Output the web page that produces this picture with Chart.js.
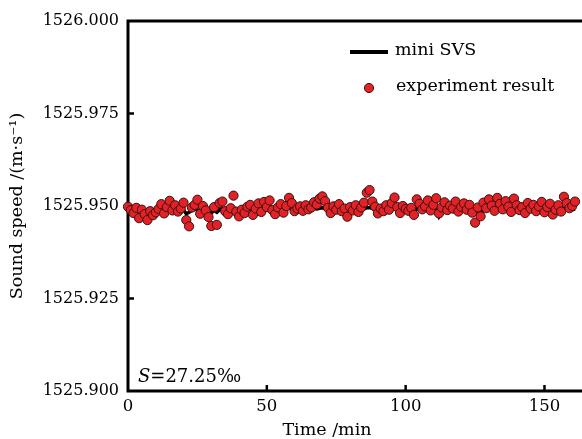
<!DOCTYPE html>
<html>
<head>
<meta charset="utf-8">
<script src="https://cdn.jsdelivr.net/npm/chart.js@4/dist/chart.umd.min.js"></script>
<style>
  html, body { margin: 0; padding: 0; background: #fff; overflow: hidden; }
  canvas { display: block; }
</style>
</head>
<body>
<canvas id="chart" width="582" height="439"></canvas>
<script>
// 时间 (min)
const sampleMinutes = [
  0, 1, 2, 3, 4, 5, 6, 7, 8, 9, 10, 11, 12, 13, 14, 15, 16, 17, 18, 19,
  20, 21, 22, 23, 24, 25, 26, 27, 28, 29, 30, 31, 32, 33, 34, 35, 36, 37, 38, 39,
  40, 41, 42, 43, 44, 45, 46, 47, 48, 49, 50, 51, 52, 53, 54, 55, 56, 57, 58, 59,
  60, 61, 62, 63, 64, 65, 66, 67, 68, 69, 70, 71, 72, 73, 74, 75, 76, 77, 78, 79,
  80, 81, 82, 83, 84, 85, 86, 87, 88, 89, 90, 91, 92, 93, 94, 95, 96, 97, 98, 99,
  100, 101, 102, 103, 104, 105, 106, 107, 108, 109, 110, 111, 112, 113, 114, 115, 116, 117, 118, 119,
  120, 121, 122, 123, 124, 125, 126, 127, 128, 129, 130, 131, 132, 133, 134, 135, 136, 137, 138, 139,
  140, 141, 142, 143, 144, 145, 146, 147, 148, 149, 150, 151, 152, 153, 154, 155, 156, 157, 158, 159,
  160, 161
];

// 实验结果 (m/s)
const experimentResult = [
  1525.9498, 1525.9489, 1525.9481, 1525.9495, 1525.9467, 1525.9490, 1525.9478, 1525.9462, 1525.9486, 1525.9475,
  1525.9483, 1525.9492, 1525.9505, 1525.9480, 1525.9497, 1525.9514, 1525.9488, 1525.9502, 1525.9485, 1525.9493,
  1525.9509, 1525.9462, 1525.9445, 1525.9496, 1525.9503, 1525.9517, 1525.9479, 1525.9500, 1525.9488, 1525.9470,
  1525.9446, 1525.9497, 1525.9449, 1525.9508, 1525.9512, 1525.9486, 1525.9478, 1525.9494, 1525.9528, 1525.9485,
  1525.9472, 1525.9490, 1525.9481, 1525.9498, 1525.9503, 1525.9476, 1525.9493, 1525.9507, 1525.9484, 1525.9511,
  1525.9497, 1525.9515, 1525.9489, 1525.9478, 1525.9496, 1525.9505, 1525.9482, 1525.9500, 1525.9522, 1525.9508,
  1525.9486, 1525.9493, 1525.9499, 1525.9487, 1525.9502, 1525.9491, 1525.9496, 1525.9510, 1525.9504, 1525.9520,
  1525.9526, 1525.9513, 1525.9495, 1525.9481, 1525.9499, 1525.9490, 1525.9505, 1525.9486, 1525.9493, 1525.9471,
  1525.9497, 1525.9488, 1525.9502, 1525.9484, 1525.9496, 1525.9509, 1525.9536, 1525.9543, 1525.9512, 1525.9498,
  1525.9480, 1525.9493, 1525.9486, 1525.9502, 1525.9490, 1525.9508, 1525.9523, 1525.9497, 1525.9481, 1525.9500,
  1525.9492, 1525.9487, 1525.9495, 1525.9476, 1525.9518, 1525.9506, 1525.9491, 1525.9499, 1525.9515, 1525.9488,
  1525.9503, 1525.9521, 1525.9480, 1525.9496, 1525.9510, 1525.9489, 1525.9501, 1525.9493, 1525.9512, 1525.9485,
  1525.9498, 1525.9507, 1525.9490, 1525.9503, 1525.9482, 1525.9455, 1525.9496, 1525.9472, 1525.9509, 1525.9494,
  1525.9518, 1525.9501, 1525.9487, 1525.9522, 1525.9506, 1525.9491, 1525.9513, 1525.9498, 1525.9484, 1525.9520,
  1525.9502, 1525.9489, 1525.9497, 1525.9481, 1525.9508, 1525.9493, 1525.9503, 1525.9486, 1525.9499, 1525.9511,
  1525.9483, 1525.9497, 1525.9506, 1525.9477, 1525.9490, 1525.9502, 1525.9485, 1525.9525, 1525.9508, 1525.9494,
  1525.9500, 1525.9512
];

// mini SVS (m/s)
const miniSvs = [
  1525.9494, 1525.9490, 1525.9487, 1525.9489, 1525.9485, 1525.9488, 1525.9486, 1525.9484, 1525.9487, 1525.9485,
  1525.9489, 1525.9491, 1525.9488, 1525.9486, 1525.9490, 1525.9492, 1525.9488, 1525.9491, 1525.9487, 1525.9490,
  1525.9489, 1525.9479, 1525.9483, 1525.9488, 1525.9491, 1525.9490, 1525.9486, 1525.9489, 1525.9487, 1525.9484,
  1525.9481, 1525.9488, 1525.9483, 1525.9490, 1525.9492, 1525.9487, 1525.9486, 1525.9489, 1525.9493, 1525.9488,
  1525.9485, 1525.9489, 1525.9487, 1525.9490, 1525.9491, 1525.9486, 1525.9489, 1525.9491, 1525.9488, 1525.9492,
  1525.9490, 1525.9493, 1525.9489, 1525.9486, 1525.9490, 1525.9492, 1525.9487, 1525.9491, 1525.9494, 1525.9492,
  1525.9488, 1525.9490, 1525.9491, 1525.9488, 1525.9491, 1525.9489, 1525.9490, 1525.9493, 1525.9492, 1525.9494,
  1525.9495, 1525.9493, 1525.9490, 1525.9486, 1525.9490, 1525.9488, 1525.9491, 1525.9485, 1525.9489, 1525.9478,
  1525.9489, 1525.9487, 1525.9490, 1525.9486, 1525.9489, 1525.9492, 1525.9495, 1525.9496, 1525.9493, 1525.9490,
  1525.9485, 1525.9489, 1525.9487, 1525.9490, 1525.9488, 1525.9491, 1525.9494, 1525.9490, 1525.9486, 1525.9490,
  1525.9489, 1525.9487, 1525.9489, 1525.9482, 1525.9493, 1525.9491, 1525.9488, 1525.9490, 1525.9492, 1525.9487,
  1525.9490, 1525.9491, 1525.9472, 1525.9486, 1525.9491, 1525.9488, 1525.9490, 1525.9489, 1525.9492, 1525.9487,
  1525.9490, 1525.9491, 1525.9488, 1525.9490, 1525.9486, 1525.9480, 1525.9489, 1525.9475, 1525.9491, 1525.9489,
  1525.9493, 1525.9490, 1525.9487, 1525.9493, 1525.9491, 1525.9488, 1525.9492, 1525.9490, 1525.9486, 1525.9492,
  1525.9490, 1525.9487, 1525.9489, 1525.9485, 1525.9491, 1525.9489, 1525.9490, 1525.9486, 1525.9489, 1525.9491,
  1525.9486, 1525.9489, 1525.9491, 1525.9484, 1525.9488, 1525.9490, 1525.9487, 1525.9493, 1525.9491, 1525.9489,
  1525.9490, 1525.9492
];

// 坐标轴刻度
const xTicks = [0, 50, 100, 150];
const yTicks = [1525.900, 1525.925, 1525.950, 1525.975, 1526.000];

const serif = '"DejaVu Serif", serif';

function toPoints(xs, ys) {
  return xs.map((x, i) => ({ x: x, y: ys[i] }));
}

// 边框、内向刻度、图例和注释
const framePlugin = {
  id: 'frame',
  beforeDatasetsDraw(chart) {
    const { ctx, chartArea: a, scales } = chart;
    ctx.save();
    ctx.strokeStyle = '#000';
    ctx.lineWidth = 3;
    ctx.lineCap = 'square';
    ctx.beginPath();
    ctx.moveTo(a.right + 5, a.top);
    ctx.lineTo(a.left, a.top);
    ctx.lineTo(a.left, a.bottom);
    ctx.lineTo(a.right + 5, a.bottom);
    ctx.stroke();

    ctx.lineWidth = 2.5;
    ctx.lineCap = 'butt';
    yTicks.slice(1, -1).forEach(v => {
      const y = scales.y.getPixelForValue(v);
      ctx.beginPath();
      ctx.moveTo(a.left, y);
      ctx.lineTo(a.left + 6, y);
      ctx.stroke();
    });
    xTicks.slice(1).forEach(v => {
      const x = scales.x.getPixelForValue(v);
      ctx.beginPath();
      ctx.moveTo(x, a.bottom);
      ctx.lineTo(x, a.bottom - 6);
      ctx.stroke();
    });
    ctx.restore();
  },
  afterDraw(chart) {
    const { ctx } = chart;
    const [scatterSet, lineSet] = chart.data.datasets;
    ctx.save();
    ctx.fillStyle = '#000';
    ctx.textBaseline = 'middle';
    ctx.font = '17.5px ' + serif;

    // 图例
    ctx.strokeStyle = lineSet.borderColor;
    ctx.lineWidth = 4;
    ctx.beginPath();
    ctx.moveTo(350, 52);
    ctx.lineTo(388, 52);
    ctx.stroke();
    ctx.fillText(lineSet.label, 395, 50);

    ctx.beginPath();
    ctx.arc(369, 88, scatterSet.pointRadius, 0, Math.PI * 2);
    ctx.fillStyle = scatterSet.backgroundColor;
    ctx.fill();
    ctx.lineWidth = scatterSet.borderWidth;
    ctx.strokeStyle = scatterSet.borderColor;
    ctx.stroke();
    ctx.fillStyle = '#000';
    ctx.fillText(scatterSet.label, 396, 86);

    // 盐度
    ctx.font = 'italic 18px ' + serif;
    ctx.fillText('S', 138, 377);
    const sw = ctx.measureText('S').width;
    ctx.font = '18px ' + serif;
    ctx.fillText('=27.25‰', 138 + sw, 377);

    // x 轴标题
    ctx.textAlign = 'center';
    ctx.font = '17.5px ' + serif;
    ctx.fillText('Time /min', 327, 430);
    ctx.restore();
  }
};

new Chart(document.getElementById('chart'), {
  type: 'scatter',
  data: {
    datasets: [
      {
        label: 'experiment result',
        data: toPoints(sampleMinutes, experimentResult),
        backgroundColor: '#e32227',
        borderColor: '#3b1010',
        borderWidth: 1,
        pointRadius: 4.6,
        clip: false
      },
      {
        label: 'mini SVS',
        type: 'line',
        data: toPoints(sampleMinutes, miniSvs),
        borderColor: '#000',
        borderWidth: 3.5,
        pointRadius: 0,
        tension: 0,
        clip: false
      }
    ]
  },
  options: {
    responsive: false,
    animation: false,
    events: [],
    layout: { padding: { top: 21, left: 0, right: 0, bottom: 0 } },
    plugins: {
      legend: { display: false },
      tooltip: { enabled: false }
    },
    scales: {
      x: {
        type: 'linear',
        min: 0,
        max: 161.5,
        grid: { display: false, drawTicks: false },
        border: { display: false },
        ticks: {
          stepSize: 50,
          includeBounds: false,
          padding: 6,
          color: '#000',
          font: { family: serif, size: 16.5 },
          maxRotation: 0
        },
        afterFit(scale) { scale.height = 48; }
      },
      y: {
        min: 1525.9,
        max: 1526.0,
        grid: { display: false, drawTicks: false },
        border: { display: false },
        ticks: {
          stepSize: 0.025,
          padding: 9,
          color: '#000',
          font: { family: serif, size: 16 },
          callback: v => v.toFixed(3)
        },
        title: {
          display: true,
          text: 'Sound speed /(m·s⁻¹)',
          color: '#000',
          font: { family: serif, size: 17.5 },
          padding: { top: 7, bottom: 0 }
        },
        afterFit(scale) { scale.width = 128; }
      }
    }
  },
  plugins: [framePlugin]
});
</script>
</body>
</html>
